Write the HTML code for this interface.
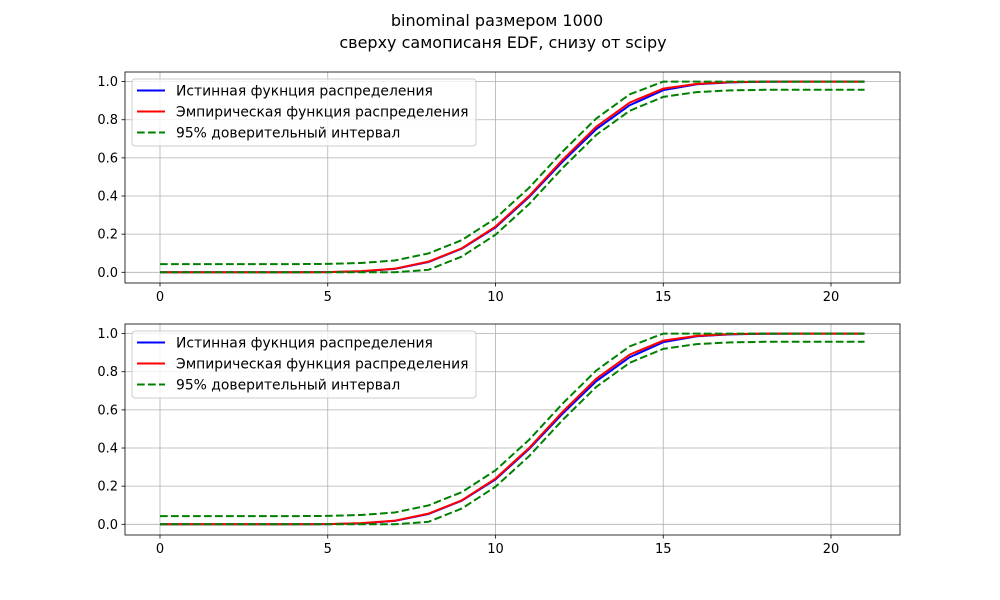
<!DOCTYPE html>
<html><head><meta charset="utf-8"><style>
body{margin:0;background:#fff;}
svg{display:block;font-family:"DejaVu Sans","Liberation Sans",sans-serif;}
</style></head><body>
<svg id="c" width="1000" height="600">
<text x="497" y="26" text-anchor="middle" font-size="16">binominal размером 1000</text>
<text x="503" y="48" text-anchor="middle" font-size="16">сверху самописаня EDF, снизу от scipy</text>
</svg>
<script>
const xs=[0,1,2,3,4,5,6,7,8,9,10,11,12,13,14,15,16,17,18,19,20,21];
const trueCdf=[0,0,0,0,0,0.001,0.005,0.018,0.054,0.124,0.235,0.395,0.58,0.75,0.876,0.955,0.986,0.996,0.999,1,1,1];
const edfVals=[0,0,0,0,0,0.001,0.006,0.019,0.056,0.126,0.24,0.40,0.59,0.763,0.89,0.963,0.988,0.997,1,1,1,1];
const eps=0.043;
const xTicks=[0,5,10,15,20];
const yTicks=[0.0,0.2,0.4,0.6,0.8,1.0];
const NS="http://www.w3.org/2000/svg";
const svg=document.getElementById('c');
function mk(t,a,p){const e=document.createElementNS(NS,t);for(const k in a)e.setAttribute(k,a[k]);(p||svg).appendChild(e);return e;}
function panel(top,name){
  const L=125,R=900,T=top,B=top+211;
  const sx=v=>160+(v-0)*(831-160)/20;
  const sy=v=>(top+200.3)-v*190.7;
  const g=mk('g',{});
  
  
  xTicks.forEach(t=>{const l=mk('line',{x1:sx(t),x2:sx(t),y1:T,y2:B,stroke:'#b0b0b0','stroke-width':0.8},g);
    mk('line',{x1:sx(t),x2:sx(t),y1:B,y2:B+3.5,stroke:'#000','stroke-width':0.8},g);
    const tx=mk('text',{x:sx(t),y:B+18,'text-anchor':'middle','font-size':13},g);tx.textContent=t;});
  yTicks.forEach(t=>{const l=mk('line',{x1:L,x2:R,y1:sy(t),y2:sy(t),stroke:'#b0b0b0','stroke-width':0.8},g);
    mk('line',{x1:L-3.5,x2:L,y1:sy(t),y2:sy(t),stroke:'#000','stroke-width':0.8},g);
    const tx=mk('text',{x:L-7,y:sy(t)+4.5,'text-anchor':'end','font-size':13},g);tx.textContent=t.toFixed(1);});
  const path=(vals,col,dash,nm)=>{const p=mk('polyline',{points:vals.map((v,i)=>sx(xs[i])+','+sy(v)).join(' '),fill:'none',stroke:col,'stroke-width':2},g);if(dash)p.setAttribute('stroke-dasharray','7.7,3.3');};
  path(trueCdf,'#0000ff',false,'true-cdf-line');
  path(edfVals,'#ff0000',false,'edf-line');
  path(edfVals.map(v=>Math.min(1,v+eps)),'#008000',true,'upper-ci-line');
  path(edfVals.map(v=>Math.max(0,v-eps)),'#008000',true,'lower-ci-line');
  const fr=mk('rect',{x:L,y:T,width:R-L,height:B-T,fill:'none',stroke:'#000','stroke-width':0.8},g);
  const lg=mk('g',{},g);
  mk('rect',{x:132,y:top+7,width:344,height:67,rx:3,fill:'#fff','fill-opacity':0.8,stroke:'#ccc'},lg);
  [['Истинная фукнция распределения','#0000ff',false],['Эмпирическая функция распределения','#ff0000',false],['95% доверительный интервал','#008000',true]].forEach((e,i)=>{
    const y=top+18.5+i*21;
    const ln=mk('line',{x1:137,x2:165,y1:y,y2:y,stroke:e[1],'stroke-width':2},lg);if(e[2])ln.setAttribute('stroke-dasharray','7.7,3.3');
    const tx=mk('text',{x:176,y:y+5,'font-size':13.9},lg);tx.textContent=e[0];});
}
panel(72,'top-panel');
panel(324,'bottom-panel');
</script>
</body></html>
